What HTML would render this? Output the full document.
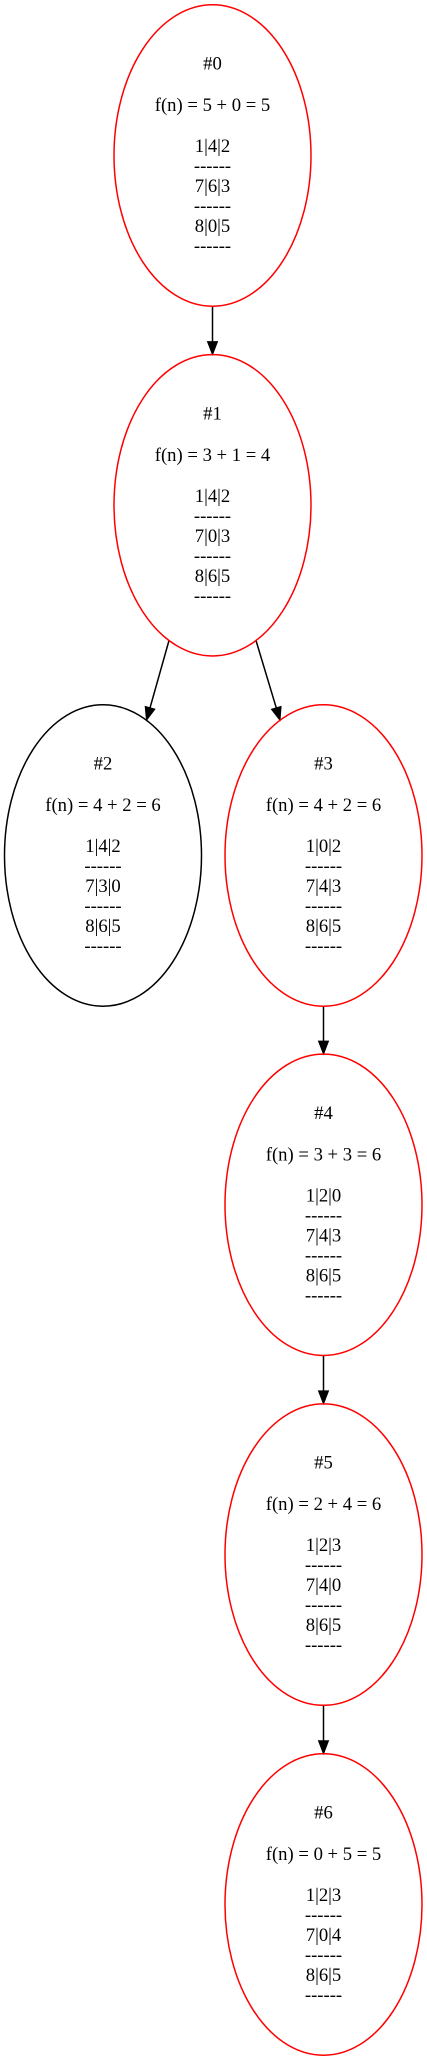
<!DOCTYPE html>
<html><head><meta charset="utf-8"><style>
html,body{margin:0;padding:0;background:#fff;}
svg{display:block;}
text{font-family:"Liberation Serif","Times New Roman",serif;font-size:18.67px;fill:#000;text-anchor:middle;}
</style></head><body>
<svg id="g" width="427" height="2061" viewBox="0 0 427 2061" xmlns="http://www.w3.org/2000/svg"></svg>
<script>
const nodeIds=[0,1,2,3,4,5,6];
const nodeCx=[212.5,212.5,103,323.5,323.5,323.5,323.5];
const nodeCy=[155.5,505.3,855.5,855.5,1204.8,1554.6,1904.5];
const nodeColor=["red","red","black","red","red","red","red"];
const nodeF=["f(n) = 5 + 0 = 5","f(n) = 3 + 1 = 4","f(n) = 4 + 2 = 6","f(n) = 4 + 2 = 6","f(n) = 3 + 3 = 6","f(n) = 2 + 4 = 6","f(n) = 0 + 5 = 5"];
const nodeRows=[["1|4|2","7|6|3","8|0|5"],["1|4|2","7|0|3","8|6|5"],["1|4|2","7|3|0","8|6|5"],["1|0|2","7|4|3","8|6|5"],["1|2|0","7|4|3","8|6|5"],["1|2|3","7|4|0","8|6|5"],["1|2|3","7|0|4","8|6|5"]];
const edgeFrom=[0,1,1,3,4,5];
const edgeTo=[1,2,3,4,5,6];
const RX=98.5,RY=150.7;
const NS="http://www.w3.org/2000/svg";
const svg=document.getElementById('g');
function mk(t,a){const e=document.createElementNS(NS,t);for(const k in a)e.setAttribute(k,a[k]);return e;}
function onEllipse(i,dx,dy){const t=1/Math.sqrt((dx*dx)/(RX*RX)+(dy*dy)/(RY*RY));return [nodeCx[i]+dx*t,nodeCy[i]+dy*t];}
for(let k=0;k<edgeFrom.length;k++){
  const a=edgeFrom[k],b=edgeTo[k];
  let dx=nodeCx[b]-nodeCx[a],dy=nodeCy[b]-nodeCy[a];
  let s,e;
  if(Math.abs(dx)<1){s=[nodeCx[a],nodeCy[a]+RY];e=[nodeCx[b],nodeCy[b]-RY];}
  else{
    const sx=dx>0?43.5:-43.5;
    const sy=RY*Math.sqrt(1-(sx*sx)/(RX*RX));
    s=[nodeCx[a]+sx,nodeCy[a]+sy];
    const tx=dx>0?-43.5:43.5;
    e=[nodeCx[b]+tx,nodeCy[b]-sy];
  }
  const L=Math.hypot(e[0]-s[0],e[1]-s[1]);const ux=(e[0]-s[0])/L,uy=(e[1]-s[1])/L;
  const bx=e[0]-ux*13,by=e[1]-uy*13;
  const g=mk('g',{});
  
  
  g.appendChild(mk('line',{x1:s[0],y1:s[1],x2:bx,y2:by,stroke:'#000','stroke-width':1.5}));
  g.appendChild(mk('polygon',{points:`${e[0]},${e[1]} ${bx-uy*5},${by+ux*5} ${bx+uy*5},${by-ux*5}`,fill:'#000',stroke:'#000','stroke-width':1}));
  svg.appendChild(g);
}
for(let i=0;i<nodeIds.length;i++){
  const g=mk('g',{});
  
  
  g.appendChild(mk('ellipse',{cx:nodeCx[i],cy:nodeCy[i],rx:RX,ry:RY,fill:'none',stroke:nodeColor[i],'stroke-width':1.5}));
  const lines=['#'+nodeIds[i],null,nodeF[i],null,nodeRows[i][0],'------',nodeRows[i][1],'------',nodeRows[i][2],'------'];
  const offs=[-86,null,-44.5,null,-3.5,16.5,36.5,56.5,76.5,96.5];
  lines.forEach((l,j)=>{if(l===null)return;const t=mk('text',{x:nodeCx[i],y:nodeCy[i]+offs[j]});t.textContent=l;g.appendChild(t);});
  svg.appendChild(g);
}
</script>
</body></html>
